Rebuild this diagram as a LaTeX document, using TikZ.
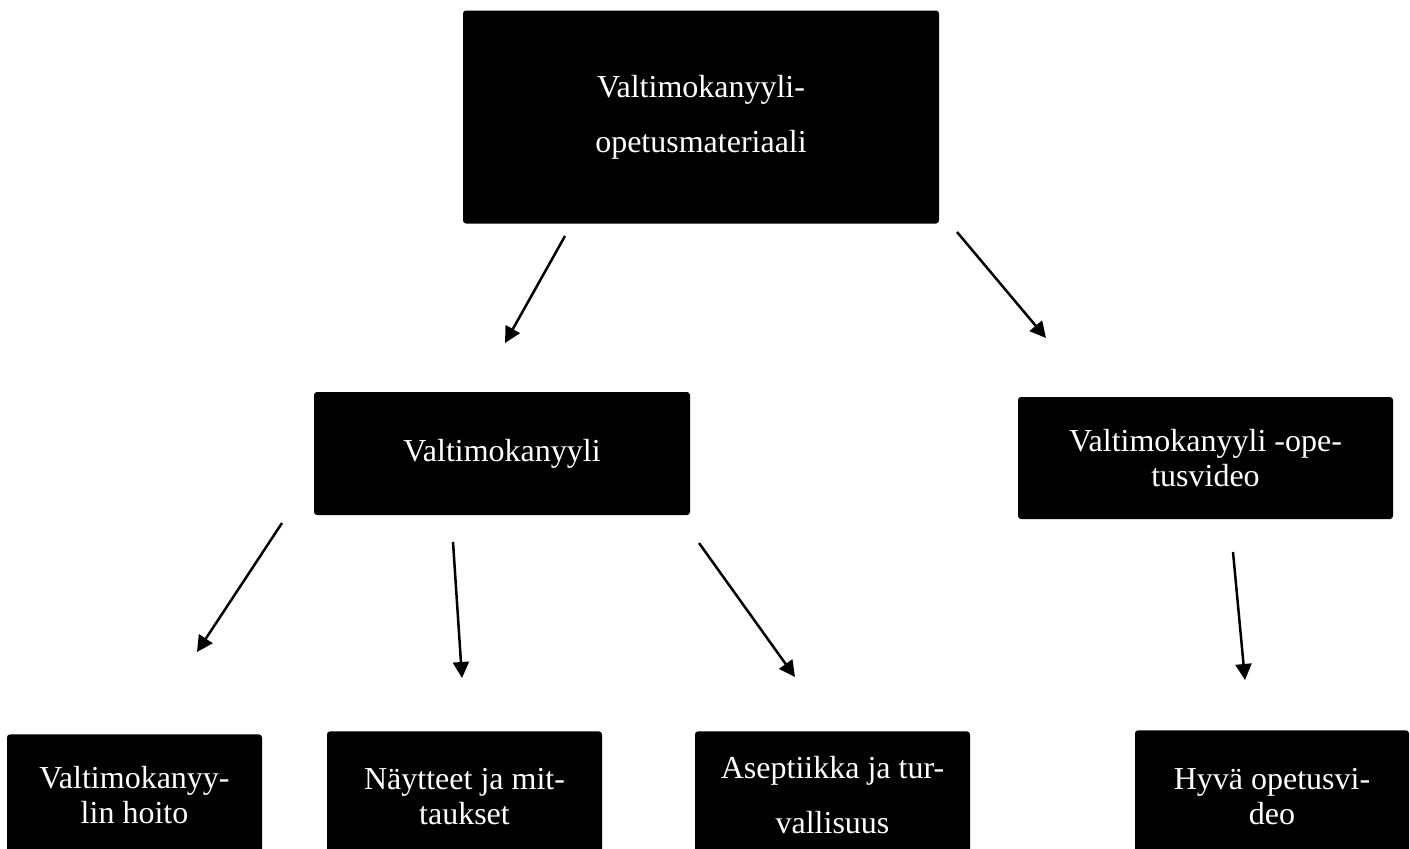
\documentclass[tikz,border=0pt]{standalone}
\usepackage{fontspec}
\setmainfont{Liberation Serif}
\usetikzlibrary{arrows.meta}
\begin{document}
\begin{tikzpicture}[x=0.5pt,y=-0.5pt,
      box/.style={fill=black,text=white,rounded corners=1.5pt,align=center,inner sep=0pt,
      font=\fontsize{16}{17.5}\selectfont},
      wide/.style={font=\fontsize{16}{27.5}\selectfont},
      low/.style={box,anchor=north,minimum width=137.5pt,minimum height=65pt},
      arr/.style={line width=1.25pt,-{Triangle[length=8pt,width=8pt]}}]
    \useasboundingbox (0,0) rectangle (1410,848);
    \clip (0,0) rectangle (1410,848);

     \node[box,wide,minimum width=238pt,minimum height=106.5pt] (mat) at (701,117) {Valtimokanyyli-\\opetusmateriaali};
     \node[box,minimum width=188pt,minimum height=61.5pt] (kan) at (502,453.5) {Valtimokanyyli};
     \node[box,minimum width=187.5pt,minimum height=61pt] (vid) at (1205.5,458) {Valtimokanyyli -ope-\\tusvideo};

     \node[low,minimum width=127.5pt,minimum height=61pt] (hoito) at (134.5,734) {Valtimokanyy-\\lin hoito};
     \node[low] (nayt) at (464.5,731) {Näytteet ja mit-\\taukset};
     \node[low,wide,minimum height=64pt] (asep) at (832.5,731) {Aseptiikka ja tur-\\vallisuus};
     \node[low,minimum width=137pt,minimum height=66pt] (hyva) at (1272,730) {Hyvä opetusvi-\\deo};

     \coordinate (a1) at (565,236);  \coordinate (b1) at (505,343);
     \coordinate (a2) at (957,232);  \coordinate (b2) at (1046,338);
     \coordinate (a3) at (282,523);  \coordinate (b3) at (197,652);
     \coordinate (a4) at (453,542);  \coordinate (b4) at (462,678);
     \coordinate (a5) at (699,543);  \coordinate (b5) at (795,677);
     \coordinate (a6) at (1233,552); \coordinate (b6) at (1245,680);

     \foreach \i in {1,...,6}
       \draw[arr] (a\i) -- (b\i);

    \end{tikzpicture}
\end{document}
